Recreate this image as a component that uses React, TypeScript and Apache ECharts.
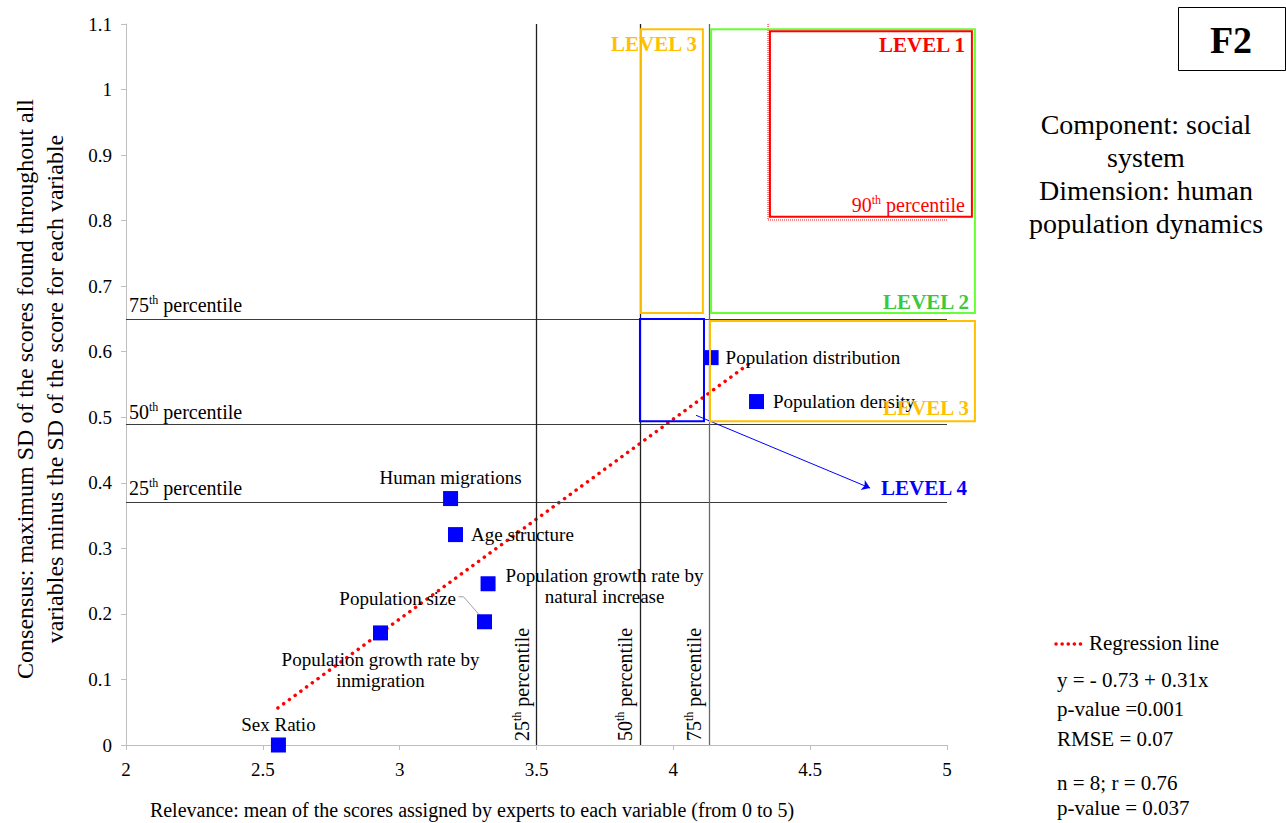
import React, { useEffect, useRef } from 'react';
import * as echarts from 'echarts';

// ---------- data ----------
const variableNames = [
  'Sex Ratio',
  'Population growth rate by inmigration',
  'Population size',
  'Population growth rate by natural increase',
  'Age structure',
  'Human migrations',
  'Population distribution',
  'Population density',
];
const variableLabels = [
  'Sex Ratio',
  'Population growth rate by\ninmigration',
  'Population size',
  'Population growth rate by\nnatural increase',
  'Age structure',
  'Human migrations',
  'Population distribution',
  'Population density',
];
const relevance = [2.557, 2.93, 3.31, 3.323, 3.204, 3.186, 4.138, 4.304];
const consensus = [0.0, 0.171, 0.188, 0.246, 0.321, 0.376, 0.591, 0.524];

const regressionX = [2.555, 4.291];
const regressionY = [0.0565, 0.586];

const xMin = 2, xMax = 5, xInterval = 0.5;
const yMin = 0, yMax = 1.1, yInterval = 0.1;

const percentileNames = ['25', '50', '75'];
const relevancePercentiles = [3.498, 3.876, 4.125];
const consensusPercentiles = [0.374, 0.489, 0.653];
const relevance90th = 4.346;
const consensus90th = 0.801;

// level boxes: [xFrom, xTo, yFrom, yTo] in data units
const level1Box = [4.353, 5.091, 0.806, 1.089];
const level2Box = [4.138, 5.102, 0.659, 1.092];
const level3UpperBox = [3.882, 4.108, 0.659, 1.092];
const level3LowerBox = [4.134, 5.102, 0.494, 0.647];
const level4Box = [3.878, 4.112, 0.494, 0.65];
const level4ArrowFrom = [4.083, 0.503];
const level4ArrowTo = [4.719, 0.392];

const statsLines = [
  'y = - 0.73 + 0.31x',
  'p-value =0.001',
  'RMSE = 0.07',
  'n = 8; r = 0.76',
  'p-value = 0.037',
];
const sideTitle = 'Component: social\nsystem\nDimension: human\npopulation dynamics';
const xTitle = 'Relevance: mean of the scores assigned by experts to each variable (from 0 to 5)';
const yTitle =
  'Consensus: maximum SD of the scores found throughout all\nvariables minus the SD of the score for each variable';

// ---------- styling ----------
const FONT = '"Liberation Serif", "Times New Roman", serif';
const RED = '#FF0000';
const BLUE = '#0000FF';
const ORANGE = '#FFC000';
const GREEN_BOX = '#66FF33';
const GREEN_TEXT = '#3CC83C';

const labelLayouts: any[] = [
  { position: 'top', distance: 3 },
  { position: 'bottom', distance: 9 },
  { position: 'left', distance: 21, offset: [0, -23] },
  { position: 'right', distance: 0, align: 'center', offset: [109, 2] },
  { position: 'right', distance: 8 },
  { position: 'top', distance: 3 },
  { position: 'right', distance: 7 },
  { position: 'right', distance: 9 },
];

const supRich = (size: number, color: string) => ({
  n: { fontSize: size, fontFamily: FONT, fill: color, color, lineHeight: size + 2 },
  s: {
    fontSize: Math.round(size * 0.62),
    fontFamily: FONT,
    fill: color,
    color,
    lineHeight: size + 2,
    verticalAlign: 'top',
  },
});
const supText = (num: string, rest: string) => `{n|${num}}{s|th}{n|${rest}}`;

export default function App() {
  const ref = useRef<HTMLDivElement>(null);

  useEffect(() => {
    if (!ref.current) return;
    const chart = echarts.init(ref.current, undefined, { renderer: 'svg' });

    const scatterData = variableNames.map((name, i) => ({
      name,
      value: [relevance[i], consensus[i]],
      label: {
        show: true,
        formatter: variableLabels[i],
        ...labelLayouts[i],
      },
    }));

    const option: any = {
      animation: false,
      backgroundColor: '#FFFFFF',
      grid: { left: 126, right: 339, top: 24, bottom: 78, containLabel: false },
      xAxis: {
        type: 'value',
        min: xMin,
        max: xMax,
        interval: xInterval,
        axisLine: { show: true, lineStyle: { color: '#BFBFBF', width: 1 } },
        axisTick: { show: true, inside: false, length: 5, lineStyle: { color: '#BFBFBF' } },
        splitLine: { show: false },
        axisLabel: { color: '#000', fontFamily: FONT, fontSize: 19, margin: 15 },
      },
      yAxis: {
        type: 'value',
        min: yMin,
        max: yMax,
        interval: yInterval,
        axisLine: { show: true, lineStyle: { color: '#BFBFBF', width: 1 } },
        axisTick: { show: true, inside: false, length: 5, lineStyle: { color: '#BFBFBF' } },
        splitLine: { show: false },
        axisLabel: {
          color: '#000',
          fontFamily: FONT,
          fontSize: 19,
          margin: 14,
          formatter: (v: number) => String(Number(v.toFixed(1))),
        },
      },
      series: [
        {
          name: 'Percentiles',
          type: 'line',
          data: [],
          z: 1,
          silent: true,
          markLine: {
            silent: true,
            symbol: ['none', 'none'],
            label: { show: false },
            emphasis: { disabled: true },
            data: [
              ...consensusPercentiles.map((v) => ({ yAxis: v, lineStyle: { color: '#3A3A3A', width: 1, type: 'solid' } })),
              ...relevancePercentiles.map((v, i) => ({
                xAxis: v,
                lineStyle: { color: i === 2 ? '#6A6A6A' : '#202020', width: 1.3, type: 'solid' },
              })),
            ],
          },
        },
        {
          name: 'Level 4 pointer',
          type: 'line',
          data: [],
          z: 2,
          silent: true,
          markLine: {
            silent: true,
            symbol: ['none', 'arrow'],
            symbolSize: 8,
            label: { show: false },
            emphasis: { disabled: true },
            lineStyle: { color: BLUE, width: 1, type: 'solid' },
            data: [[{ coord: level4ArrowFrom }, { coord: level4ArrowTo }]],
          },
        },
        {
          name: 'Regression line',
          type: 'line',
          z: 3,
          silent: true,
          showSymbol: false,
          symbol: 'none',
          data: regressionX.map((x, i) => [x, regressionY[i]]),
          lineStyle: { color: RED, width: 3.5, type: [0.1, 7], cap: 'round' },
        },
        {
          name: 'Variables',
          type: 'scatter',
          z: 5,
          symbol: 'rect',
          symbolSize: 15,
          itemStyle: { color: BLUE, opacity: 1 },
          label: { show: true, color: '#000', fontFamily: FONT, fontSize: 19, lineHeight: 21 },
          emphasis: { disabled: true },
          data: scatterData,
        },
      ],
    };
    chart.setOption(option);

    const px = (x: number, y: number) => chart.convertToPixel({ gridIndex: 0 }, [x, y]) as number[];
    const boxRect = (b: number[], color: string, width: number) => {
      const p0 = px(b[0], b[3]);
      const p1 = px(b[1], b[2]);
      return {
        type: 'rect',
        silent: true,
        z: 10,
        shape: { x: p0[0], y: p0[1], width: p1[0] - p0[0], height: p1[1] - p0[1] },
        style: { fill: 'none', stroke: color, lineWidth: width },
      };
    };

    const graphics: any[] = [];
    graphics.push(boxRect(level2Box, GREEN_BOX, 2));
    graphics.push(boxRect(level3UpperBox, ORANGE, 2));
    graphics.push(boxRect(level3LowerBox, ORANGE, 2));
    graphics.push(boxRect(level4Box, BLUE, 2));
    graphics.push(boxRect(level1Box, RED, 2));

    // 90th percentile dotted guides
    const top90 = px(relevance90th, yMax);
    const corner90 = px(relevance90th, consensus90th);
    const right90 = px(xMax, consensus90th);
    graphics.push({
      type: 'polyline',
      silent: true,
      z: 9,
      shape: { points: [top90, corner90, right90] },
      style: { fill: 'none', stroke: RED, lineWidth: 1, lineDash: [1, 1] },
    });

    // level labels
    const l1 = px(level1Box[1], level1Box[3]);
    const l2 = px(level2Box[1], level2Box[2]);
    const l3u = px(level3UpperBox[1], level3UpperBox[3]);
    const l3l = px(level3LowerBox[1], level3LowerBox[2]);
    const l1b = px(level1Box[1], level1Box[2]);
    const arrowEnd = px(level4ArrowTo[0], level4ArrowTo[1]);
    const levelText = (text: string, x: number, y: number, color: string, align: string) => ({
      type: 'text',
      silent: true,
      z: 12,
      x,
      y,
      style: { text, fill: color, font: `bold 21px ${FONT}`, align, verticalAlign: 'middle' },
    });
    graphics.push(levelText('LEVEL 1', l1[0] - 7, l1[1] + 14, RED, 'right'));
    graphics.push(levelText('LEVEL 2', l2[0] - 6, l2[1] - 11, GREEN_TEXT, 'right'));
    graphics.push(levelText('LEVEL 3', l3u[0] - 6, l3u[1] + 15, ORANGE, 'right'));
    graphics.push(levelText('LEVEL 3', l3l[0] - 6, l3l[1] - 13, ORANGE, 'right'));
    graphics.push(levelText('LEVEL 4', arrowEnd[0] + 11, arrowEnd[1], BLUE, 'left'));
    graphics.push({
      type: 'text',
      silent: true,
      z: 12,
      x: l1b[0] - 7,
      y: l1b[1] - 12,
      style: {
        text: supText('90', ' percentile'),
        fill: RED,
        rich: supRich(20, RED),
        align: 'right',
        verticalAlign: 'middle',
      },
    });

    // percentile labels
    consensusPercentiles.forEach((v, i) => {
      const p = px(xMin, v);
      graphics.push({
        type: 'text',
        silent: true,
        z: 12,
        x: p[0] + 3,
        y: p[1] - 1,
        style: {
          text: supText(percentileNames[i], ' percentile'),
          fill: '#000',
          rich: supRich(20, '#000'),
          align: 'left',
          verticalAlign: 'bottom',
        },
      });
    });
    relevancePercentiles.forEach((v, i) => {
      const p = px(v, yMin);
      graphics.push({
        type: 'text',
        silent: true,
        z: 12,
        x: p[0] - 3,
        y: p[1] - 4,
        rotation: Math.PI / 2,
        style: {
          text: supText(percentileNames[i], ' percentile'),
          fill: '#000',
          rich: supRich(20, '#000'),
          align: 'left',
          verticalAlign: 'bottom',
        },
      });
    });

    // leader line for "Population size"
    const ps = px(relevance[2], consensus[2]);
    graphics.push({
      type: 'polyline',
      silent: true,
      z: 4,
      shape: { points: [[ps[0] - 26, ps[1] - 25], [ps[0] - 21, ps[1] - 25], [ps[0], ps[1] - 1]] },
      style: { fill: 'none', stroke: '#A0A0A0', lineWidth: 1 },
    });

    // axis titles
    graphics.push({
      type: 'text',
      silent: true,
      x: 472,
      y: 810,
      style: { text: xTitle, fill: '#000', font: `20px ${FONT}`, align: 'center', verticalAlign: 'middle' },
    });
    graphics.push({
      type: 'text',
      silent: true,
      x: 40,
      y: 389,
      rotation: Math.PI / 2,
      style: { text: yTitle, fill: '#000', font: `24px ${FONT}`, lineHeight: 30, align: 'center', verticalAlign: 'middle' },
    });

    // F2 box
    graphics.push({
      type: 'rect',
      silent: true,
      shape: { x: 1178.5, y: 7.5, width: 107, height: 63 },
      style: { fill: '#FFF', stroke: '#000', lineWidth: 1 },
    });
    graphics.push({
      type: 'text',
      silent: true,
      x: 1231,
      y: 40,
      style: { text: 'F2', fill: '#000', font: `bold 38px ${FONT}`, align: 'center', verticalAlign: 'middle' },
    });

    // side title
    graphics.push({
      type: 'text',
      silent: true,
      x: 1146,
      y: 108,
      style: { text: sideTitle, fill: '#000', font: `28px ${FONT}`, lineHeight: 33, align: 'center', verticalAlign: 'top' },
    });

    // regression legend
    graphics.push({
      type: 'line',
      silent: true,
      shape: { x1: 1056, y1: 644, x2: 1086, y2: 644 },
      style: { stroke: RED, lineWidth: 3.5, lineDash: [0.1, 6], lineCap: 'round' },
    });
    graphics.push({
      type: 'text',
      silent: true,
      x: 1089,
      y: 643,
      style: { text: 'Regression line', fill: '#000', font: `21px ${FONT}`, align: 'left', verticalAlign: 'middle' },
    });
    const statsY = [680, 709, 739, 783, 808];
    statsLines.forEach((t, i) => {
      graphics.push({
        type: 'text',
        silent: true,
        x: 1057,
        y: statsY[i],
        style: { text: t, fill: '#000', font: `21px ${FONT}`, align: 'left', verticalAlign: 'middle' },
      });
    });

    chart.setOption({ graphic: graphics });

    return () => chart.dispose();
  }, []);

  return (
    <div
      ref={ref}
      style={{ position: 'fixed', left: 0, top: 0, width: 1286, height: 823, background: '#FFFFFF' }}
    />
  );
}
